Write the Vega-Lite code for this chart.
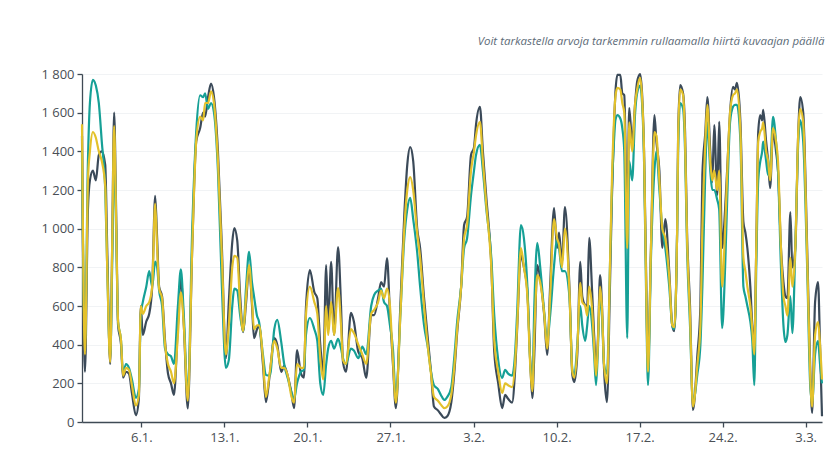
{
  "$schema": "https://vega.github.io/schema/vega-lite/v6.json",
  "width": 740,
  "height": 348,
  "autosize": {"type": "none"},
  "padding": {"left": 82, "top": 74, "right": 18, "bottom": 31},
  "background": "#ffffff",
  "title": {
    "text": "Voit tarkastella arvoja tarkemmin rullaamalla hiirtä kuvaajan päällä",
    "anchor": "end",
    "fontStyle": "italic",
    "fontWeight": "normal",
    "fontSize": 11.5,
    "font": "Open Sans",
    "color": "#5d6b78",
    "baseline": "alphabetic",
    "offset": 12,
    "dx": -2
  },
  "config": {
    "view": {"stroke": null},
    "axis": {
      "labelFont": "Open Sans",
      "labelFontSize": 13,
      "labelColor": "#4a4f55",
      "domainColor": "#3f4a55",
      "tickColor": "#3f4a55",
      "domainWidth": 1.3,
      "tickWidth": 1.3,
      "tickSize": 5,
      "labelOverlap": false,
      "title": null
    }
  },
  "data": {
    "values": [
      {"t":"2025-01-01T00:00","a":1480,"b":1400,"c":1540},
      {"t":"2025-01-01T06:00","a":260,"b":400,"c":350},
      {"t":"2025-01-01T12:00","a":1100,"b":1350,"c":1250},
      {"t":"2025-01-01T16:00","a":1250,"b":1650,"c":1400},
      {"t":"2025-01-01T22:00","a":1300,"b":1770,"c":1500},
      {"t":"2025-01-02T04:00","a":1250,"b":1740,"c":1470},
      {"t":"2025-01-02T10:00","a":1380,"b":1650,"c":1400},
      {"t":"2025-01-02T16:00","a":1400,"b":1450,"c":1350},
      {"t":"2025-01-02T23:00","a":1330,"b":1200,"c":1220},
      {"t":"2025-01-03T03:00","a":900,"b":800,"c":800},
      {"t":"2025-01-03T09:00","a":300,"b":330,"c":310},
      {"t":"2025-01-03T13:00","a":900,"b":800,"c":900},
      {"t":"2025-01-03T17:00","a":1600,"b":1400,"c":1530},
      {"t":"2025-01-03T21:00","a":1100,"b":1000,"c":1050},
      {"t":"2025-01-04T01:00","a":500,"b":520,"c":520},
      {"t":"2025-01-04T07:00","a":400,"b":420,"c":420},
      {"t":"2025-01-04T11:00","a":230,"b":250,"c":240},
      {"t":"2025-01-04T17:00","a":260,"b":300,"c":280},
      {"t":"2025-01-04T23:00","a":250,"b":280,"c":270},
      {"t":"2025-01-05T05:00","a":150,"b":220,"c":190},
      {"t":"2025-01-05T13:00","a":35,"b":125,"c":85},
      {"t":"2025-01-05T19:00","a":120,"b":170,"c":140},
      {"t":"2025-01-05T23:00","a":600,"b":560,"c":600},
      {"t":"2025-01-06T03:00","a":450,"b":620,"c":560},
      {"t":"2025-01-06T10:00","a":520,"b":700,"c":600},
      {"t":"2025-01-06T16:00","a":560,"b":780,"c":620},
      {"t":"2025-01-06T22:00","a":700,"b":700,"c":700},
      {"t":"2025-01-07T04:00","a":1170,"b":830,"c":1130},
      {"t":"2025-01-07T08:00","a":950,"b":800,"c":900},
      {"t":"2025-01-07T12:00","a":700,"b":680,"c":690},
      {"t":"2025-01-07T18:00","a":650,"b":600,"c":640},
      {"t":"2025-01-08T00:00","a":420,"b":380,"c":400},
      {"t":"2025-01-08T06:00","a":250,"b":350,"c":300},
      {"t":"2025-01-08T12:00","a":200,"b":340,"c":260},
      {"t":"2025-01-08T18:00","a":140,"b":300,"c":200},
      {"t":"2025-01-09T02:00","a":500,"b":600,"c":450},
      {"t":"2025-01-09T08:00","a":745,"b":790,"c":670},
      {"t":"2025-01-09T14:00","a":500,"b":550,"c":500},
      {"t":"2025-01-09T22:00","a":70,"b":140,"c":110},
      {"t":"2025-01-10T07:00","a":900,"b":1000,"c":900},
      {"t":"2025-01-10T15:00","a":1450,"b":1500,"c":1450},
      {"t":"2025-01-10T23:00","a":1520,"b":1690,"c":1580},
      {"t":"2025-01-11T05:00","a":1600,"b":1680,"c":1560},
      {"t":"2025-01-11T09:00","a":1580,"b":1700,"c":1650},
      {"t":"2025-01-11T15:00","a":1680,"b":1620,"c":1650},
      {"t":"2025-01-11T21:00","a":1750,"b":1650,"c":1710},
      {"t":"2025-01-12T03:00","a":1680,"b":1600,"c":1650},
      {"t":"2025-01-12T11:00","a":1400,"b":1300,"c":1350},
      {"t":"2025-01-12T19:00","a":900,"b":700,"c":850},
      {"t":"2025-01-13T03:00","a":330,"b":280,"c":350},
      {"t":"2025-01-13T09:00","a":620,"b":320,"c":500},
      {"t":"2025-01-13T16:00","a":930,"b":600,"c":800},
      {"t":"2025-01-13T20:00","a":1003,"b":690,"c":860},
      {"t":"2025-01-14T02:00","a":940,"b":680,"c":850},
      {"t":"2025-01-14T08:00","a":650,"b":550,"c":600},
      {"t":"2025-01-14T14:00","a":465,"b":470,"c":470},
      {"t":"2025-01-14T20:00","a":620,"b":700,"c":650},
      {"t":"2025-01-15T02:00","a":800,"b":880,"c":812},
      {"t":"2025-01-15T08:00","a":600,"b":720,"c":620},
      {"t":"2025-01-15T12:00","a":434,"b":650,"c":480},
      {"t":"2025-01-15T18:00","a":480,"b":550,"c":500},
      {"t":"2025-01-15T22:00","a":500,"b":520,"c":500},
      {"t":"2025-01-16T06:00","a":300,"b":350,"c":330},
      {"t":"2025-01-16T12:00","a":103,"b":243,"c":130},
      {"t":"2025-01-16T20:00","a":250,"b":240,"c":260},
      {"t":"2025-01-17T05:00","a":434,"b":480,"c":420},
      {"t":"2025-01-17T11:00","a":400,"b":528,"c":380},
      {"t":"2025-01-17T19:00","a":259,"b":414,"c":280},
      {"t":"2025-01-18T01:00","a":290,"b":300,"c":280},
      {"t":"2025-01-18T09:00","a":230,"b":220,"c":230},
      {"t":"2025-01-18T15:00","a":160,"b":160,"c":140},
      {"t":"2025-01-18T21:00","a":72,"b":120,"c":100},
      {"t":"2025-01-19T03:00","a":372,"b":200,"c":300},
      {"t":"2025-01-19T11:00","a":250,"b":260,"c":280},
      {"t":"2025-01-19T17:00","a":230,"b":270,"c":280},
      {"t":"2025-01-19T21:00","a":590,"b":450,"c":550},
      {"t":"2025-01-20T05:00","a":786,"b":538,"c":700},
      {"t":"2025-01-20T14:00","a":672,"b":480,"c":620},
      {"t":"2025-01-20T20:00","a":640,"b":420,"c":560},
      {"t":"2025-01-21T02:00","a":400,"b":200,"c":330},
      {"t":"2025-01-21T08:00","a":259,"b":140,"c":220},
      {"t":"2025-01-21T14:00","a":812,"b":300,"c":600},
      {"t":"2025-01-21T18:00","a":500,"b":380,"c":450},
      {"t":"2025-01-22T00:00","a":828,"b":420,"c":620},
      {"t":"2025-01-22T06:00","a":450,"b":380,"c":450},
      {"t":"2025-01-22T14:00","a":905,"b":430,"c":693},
      {"t":"2025-01-22T20:00","a":600,"b":380,"c":500},
      {"t":"2025-01-23T00:00","a":310,"b":330,"c":320},
      {"t":"2025-01-23T06:00","a":260,"b":300,"c":300},
      {"t":"2025-01-23T16:00","a":564,"b":380,"c":480},
      {"t":"2025-01-23T22:00","a":520,"b":370,"c":460},
      {"t":"2025-01-24T07:00","a":362,"b":330,"c":400},
      {"t":"2025-01-24T15:00","a":330,"b":390,"c":350},
      {"t":"2025-01-24T23:00","a":228,"b":350,"c":300},
      {"t":"2025-01-25T09:00","a":553,"b":600,"c":560},
      {"t":"2025-01-25T15:00","a":553,"b":657,"c":580},
      {"t":"2025-01-25T23:00","a":640,"b":680,"c":620},
      {"t":"2025-01-26T05:00","a":724,"b":690,"c":680},
      {"t":"2025-01-26T11:00","a":700,"b":620,"c":640},
      {"t":"2025-01-26T17:00","a":848,"b":600,"c":690},
      {"t":"2025-01-26T23:00","a":560,"b":500,"c":600},
      {"t":"2025-01-27T05:00","a":300,"b":380,"c":320},
      {"t":"2025-01-27T11:00","a":72,"b":120,"c":100},
      {"t":"2025-01-27T20:00","a":600,"b":550,"c":550},
      {"t":"2025-01-28T04:00","a":1071,"b":950,"c":1000},
      {"t":"2025-01-28T10:00","a":1330,"b":1100,"c":1200},
      {"t":"2025-01-28T16:00","a":1422,"b":1159,"c":1267},
      {"t":"2025-01-28T22:00","a":1350,"b":1050,"c":1200},
      {"t":"2025-01-29T06:00","a":1003,"b":880,"c":980},
      {"t":"2025-01-29T12:00","a":900,"b":700,"c":850},
      {"t":"2025-01-29T20:00","a":641,"b":500,"c":600},
      {"t":"2025-01-30T04:00","a":420,"b":380,"c":380},
      {"t":"2025-01-30T10:00","a":260,"b":260,"c":250},
      {"t":"2025-01-30T16:00","a":80,"b":190,"c":130},
      {"t":"2025-01-31T00:00","a":60,"b":170,"c":110},
      {"t":"2025-01-31T06:00","a":40,"b":140,"c":90},
      {"t":"2025-01-31T13:00","a":21,"b":114,"c":72},
      {"t":"2025-01-31T19:00","a":30,"b":130,"c":80},
      {"t":"2025-02-01T03:00","a":100,"b":180,"c":140},
      {"t":"2025-02-01T09:00","a":250,"b":330,"c":280},
      {"t":"2025-02-01T15:00","a":465,"b":520,"c":480},
      {"t":"2025-02-01T23:00","a":700,"b":700,"c":700},
      {"t":"2025-02-02T05:00","a":1019,"b":900,"c":950},
      {"t":"2025-02-02T11:00","a":1060,"b":950,"c":1020},
      {"t":"2025-02-02T19:00","a":1381,"b":1174,"c":1300},
      {"t":"2025-02-03T01:00","a":1420,"b":1300,"c":1400},
      {"t":"2025-02-03T05:00","a":1536,"b":1380,"c":1480},
      {"t":"2025-02-03T13:00","a":1630,"b":1433,"c":1552},
      {"t":"2025-02-03T19:00","a":1400,"b":1300,"c":1350},
      {"t":"2025-02-04T02:00","a":1159,"b":1100,"c":1120},
      {"t":"2025-02-04T12:00","a":812,"b":850,"c":800},
      {"t":"2025-02-04T18:00","a":362,"b":550,"c":420},
      {"t":"2025-02-05T02:00","a":200,"b":320,"c":260},
      {"t":"2025-02-05T10:00","a":72,"b":228,"c":150},
      {"t":"2025-02-05T16:00","a":140,"b":270,"c":200},
      {"t":"2025-02-05T22:00","a":120,"b":250,"c":190},
      {"t":"2025-02-06T06:00","a":100,"b":240,"c":180},
      {"t":"2025-02-06T12:00","a":260,"b":350,"c":300},
      {"t":"2025-02-06T16:00","a":465,"b":550,"c":480},
      {"t":"2025-02-07T00:00","a":864,"b":1019,"c":900},
      {"t":"2025-02-07T06:00","a":800,"b":950,"c":800},
      {"t":"2025-02-07T13:00","a":672,"b":700,"c":650},
      {"t":"2025-02-07T19:00","a":300,"b":300,"c":280},
      {"t":"2025-02-07T23:00","a":124,"b":200,"c":160},
      {"t":"2025-02-08T03:00","a":350,"b":600,"c":450},
      {"t":"2025-02-08T09:00","a":812,"b":926,"c":760},
      {"t":"2025-02-08T15:00","a":740,"b":800,"c":720},
      {"t":"2025-02-08T23:00","a":553,"b":570,"c":560},
      {"t":"2025-02-09T05:00","a":347,"b":420,"c":380},
      {"t":"2025-02-09T11:00","a":700,"b":550,"c":650},
      {"t":"2025-02-09T19:00","a":1107,"b":810,"c":1050},
      {"t":"2025-02-10T01:00","a":900,"b":950,"c":950},
      {"t":"2025-02-10T05:00","a":980,"b":900,"c":920},
      {"t":"2025-02-10T11:00","a":828,"b":780,"c":800},
      {"t":"2025-02-10T17:00","a":1112,"b":780,"c":1000},
      {"t":"2025-02-11T02:00","a":700,"b":650,"c":680},
      {"t":"2025-02-11T08:00","a":243,"b":270,"c":260},
      {"t":"2025-02-11T12:00","a":207,"b":240,"c":230},
      {"t":"2025-02-11T18:00","a":350,"b":400,"c":380},
      {"t":"2025-02-12T00:00","a":828,"b":600,"c":720},
      {"t":"2025-02-12T04:00","a":650,"b":500,"c":620},
      {"t":"2025-02-12T10:00","a":605,"b":420,"c":600},
      {"t":"2025-02-12T14:00","a":600,"b":500,"c":550},
      {"t":"2025-02-12T18:00","a":952,"b":600,"c":700},
      {"t":"2025-02-13T00:00","a":672,"b":500,"c":580},
      {"t":"2025-02-13T04:00","a":450,"b":350,"c":400},
      {"t":"2025-02-13T08:00","a":280,"b":191,"c":240},
      {"t":"2025-02-13T12:00","a":450,"b":400,"c":430},
      {"t":"2025-02-13T16:00","a":760,"b":650,"c":700},
      {"t":"2025-02-13T20:00","a":600,"b":550,"c":580},
      {"t":"2025-02-14T00:00","a":280,"b":300,"c":300},
      {"t":"2025-02-14T06:00","a":103,"b":250,"c":200},
      {"t":"2025-02-14T12:00","a":700,"b":800,"c":800},
      {"t":"2025-02-14T16:00","a":1159,"b":1200,"c":1250},
      {"t":"2025-02-14T21:00","a":1588,"b":1490,"c":1600},
      {"t":"2025-02-14T23:00","a":1700,"b":1560,"c":1680},
      {"t":"2025-02-15T03:00","a":1795,"b":1588,"c":1728},
      {"t":"2025-02-15T09:00","a":1795,"b":1570,"c":1720},
      {"t":"2025-02-15T13:00","a":1700,"b":1520,"c":1650},
      {"t":"2025-02-15T17:00","a":1690,"b":1400,"c":1600},
      {"t":"2025-02-15T23:00","a":1020,"b":434,"c":900},
      {"t":"2025-02-16T03:00","a":1624,"b":1350,"c":1550},
      {"t":"2025-02-16T09:00","a":1450,"b":1250,"c":1400},
      {"t":"2025-02-16T15:00","a":1650,"b":1600,"c":1650},
      {"t":"2025-02-16T19:00","a":1760,"b":1700,"c":1720},
      {"t":"2025-02-17T01:00","a":1800,"b":1740,"c":1780},
      {"t":"2025-02-17T05:00","a":1700,"b":1650,"c":1680},
      {"t":"2025-02-17T09:00","a":1400,"b":1350,"c":1400},
      {"t":"2025-02-17T13:00","a":800,"b":700,"c":750},
      {"t":"2025-02-17T17:00","a":295,"b":191,"c":260},
      {"t":"2025-02-17T23:00","a":900,"b":850,"c":900},
      {"t":"2025-02-18T06:00","a":1588,"b":1300,"c":1500},
      {"t":"2025-02-18T10:00","a":1450,"b":1400,"c":1480},
      {"t":"2025-02-18T16:00","a":1300,"b":1200,"c":1250},
      {"t":"2025-02-18T22:00","a":900,"b":1000,"c":1000},
      {"t":"2025-02-19T04:00","a":1050,"b":900,"c":950},
      {"t":"2025-02-19T12:00","a":780,"b":700,"c":750},
      {"t":"2025-02-19T18:00","a":500,"b":500,"c":500},
      {"t":"2025-02-19T22:00","a":470,"b":480,"c":490},
      {"t":"2025-02-20T04:00","a":1000,"b":1000,"c":1000},
      {"t":"2025-02-20T06:00","a":1500,"b":1400,"c":1480},
      {"t":"2025-02-20T10:00","a":1743,"b":1650,"c":1720},
      {"t":"2025-02-20T16:00","a":1700,"b":1620,"c":1690},
      {"t":"2025-02-20T20:00","a":1500,"b":1400,"c":1450},
      {"t":"2025-02-21T00:00","a":983,"b":900,"c":950},
      {"t":"2025-02-21T06:00","a":600,"b":500,"c":550},
      {"t":"2025-02-21T12:00","a":62,"b":100,"c":80},
      {"t":"2025-02-21T21:00","a":350,"b":250,"c":300},
      {"t":"2025-02-22T03:00","a":600,"b":400,"c":500},
      {"t":"2025-02-22T07:00","a":1278,"b":700,"c":1000},
      {"t":"2025-02-22T13:00","a":1500,"b":1300,"c":1450},
      {"t":"2025-02-22T17:00","a":1681,"b":1550,"c":1640},
      {"t":"2025-02-22T23:00","a":1400,"b":1300,"c":1350},
      {"t":"2025-02-23T03:00","a":1241,"b":1200,"c":1250},
      {"t":"2025-02-23T07:00","a":1536,"b":1200,"c":1300},
      {"t":"2025-02-23T13:00","a":1174,"b":1150,"c":1200},
      {"t":"2025-02-23T17:00","a":1552,"b":1100,"c":1300},
      {"t":"2025-02-23T23:00","a":900,"b":486,"c":700},
      {"t":"2025-02-24T05:00","a":1100,"b":800,"c":1000},
      {"t":"2025-02-24T11:00","a":1400,"b":1300,"c":1400},
      {"t":"2025-02-24T15:00","a":1600,"b":1550,"c":1600},
      {"t":"2025-02-24T21:00","a":1733,"b":1630,"c":1690},
      {"t":"2025-02-25T01:00","a":1720,"b":1640,"c":1700},
      {"t":"2025-02-25T05:00","a":1754,"b":1640,"c":1720},
      {"t":"2025-02-25T12:00","a":1550,"b":1450,"c":1500},
      {"t":"2025-02-25T18:00","a":1034,"b":700,"c":850},
      {"t":"2025-02-25T22:00","a":980,"b":650,"c":780},
      {"t":"2025-02-26T02:00","a":900,"b":600,"c":700},
      {"t":"2025-02-26T08:00","a":700,"b":520,"c":600},
      {"t":"2025-02-26T12:00","a":500,"b":420,"c":480},
      {"t":"2025-02-26T16:00","a":400,"b":191,"c":350},
      {"t":"2025-02-26T20:00","a":900,"b":800,"c":900},
      {"t":"2025-02-27T00:00","a":1500,"b":1250,"c":1450},
      {"t":"2025-02-27T04:00","a":1588,"b":1345,"c":1500},
      {"t":"2025-02-27T08:00","a":1560,"b":1400,"c":1520},
      {"t":"2025-02-27T10:00","a":1614,"b":1450,"c":1550},
      {"t":"2025-02-27T16:00","a":1450,"b":1350,"c":1400},
      {"t":"2025-02-27T20:00","a":1350,"b":1278,"c":1350},
      {"t":"2025-02-28T00:00","a":1210,"b":1300,"c":1250},
      {"t":"2025-02-28T06:00","a":1500,"b":1578,"c":1520},
      {"t":"2025-02-28T12:00","a":1400,"b":1450,"c":1450},
      {"t":"2025-02-28T16:00","a":1300,"b":1300,"c":1350},
      {"t":"2025-02-28T22:00","a":900,"b":800,"c":900},
      {"t":"2025-03-01T03:00","a":724,"b":500,"c":650},
      {"t":"2025-03-01T07:00","a":650,"b":414,"c":600},
      {"t":"2025-03-01T11:00","a":641,"b":450,"c":550},
      {"t":"2025-03-01T17:00","a":1086,"b":650,"c":850},
      {"t":"2025-03-01T21:00","a":800,"b":460,"c":700},
      {"t":"2025-03-02T03:00","a":900,"b":900,"c":900},
      {"t":"2025-03-02T09:00","a":1500,"b":1450,"c":1500},
      {"t":"2025-03-02T13:00","a":1681,"b":1560,"c":1620},
      {"t":"2025-03-02T19:00","a":1600,"b":1450,"c":1550},
      {"t":"2025-03-03T03:00","a":900,"b":800,"c":850},
      {"t":"2025-03-03T09:00","a":295,"b":200,"c":250},
      {"t":"2025-03-03T13:00","a":47,"b":100,"c":80},
      {"t":"2025-03-03T19:00","a":620,"b":350,"c":450},
      {"t":"2025-03-04T01:00","a":724,"b":420,"c":517},
      {"t":"2025-03-04T05:00","a":400,"b":300,"c":400},
      {"t":"2025-03-04T09:00","a":30,"b":200,"c":220}
    ]
  },
  "transform": [
    {"fold": ["a", "b", "c"], "as": ["sarja", "arvo"]}
  ],
  "mark": {"type": "line", "strokeWidth": 2.2, "interpolate": "monotone"},
  "encoding": {
    "x": {
      "field": "t",
      "type": "temporal",
      "scale": {
        "domain": [{"year": 2025, "month": 1, "date": 1}, {"year": 2025, "month": 3, "date": 4, "hours": 9}],
        "nice": false
      },
      "axis": {
        "format": "%-d.%-m.",
        "values": [
          {"year": 2025, "month": 1, "date": 6},
          {"year": 2025, "month": 1, "date": 13},
          {"year": 2025, "month": 1, "date": 20},
          {"year": 2025, "month": 1, "date": 27},
          {"year": 2025, "month": 2, "date": 3},
          {"year": 2025, "month": 2, "date": 10},
          {"year": 2025, "month": 2, "date": 17},
          {"year": 2025, "month": 2, "date": 24},
          {"year": 2025, "month": 3, "date": 3}
        ],
        "grid": false,
        "labelPadding": 4
      }
    },
    "y": {
      "field": "arvo",
      "type": "quantitative",
      "scale": {"domain": [0, 1800], "nice": false},
      "axis": {
        "values": [0, 200, 400, 600, 800, 1000, 1200, 1400, 1600, 1800],
        "labelExpr": "replace(format(datum.value, ','), ',', ' ')",
        "grid": true,
        "gridColor": "#f1f3f5",
        "gridWidth": 1,
        "labelPadding": 3
      }
    },
    "color": {
      "field": "sarja",
      "type": "nominal",
      "scale": {"domain": ["a", "b", "c"], "range": ["#3b4a59", "#16a096", "#e3c12b"]},
      "legend": null
    }
  }
}
